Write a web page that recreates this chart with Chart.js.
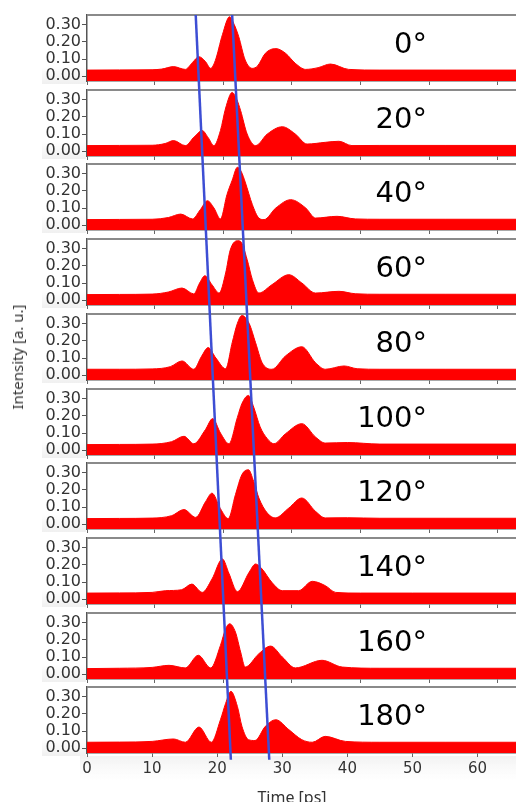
<!DOCTYPE html>
<html>
<head>
<meta charset="utf-8">
<script src="https://cdn.jsdelivr.net/npm/chart.js@4"></script>
<style>
  body { margin: 0; background: #fff; }
  #wrap { position: relative; width: 516px; height: 802px; overflow: hidden; background: #fff; }
  canvas { position: absolute; left: 0; }
  .angle { position: absolute; right: 89px; font-family: "DejaVu Sans", sans-serif; font-size: 29px; color: #000; transform: translateY(-50%); white-space: nowrap; }
  .title { position: absolute; font-family: "Noto Sans", sans-serif; color: #333; white-space: nowrap; }
</style>
</head>
<body>
<div id="wrap"></div>
<script>
// Angle of each trace (one panel per angle)
const angles = ['0°', '20°', '40°', '60°', '80°', '100°', '120°', '140°', '160°', '180°'];

// Time [ps] / intensity [a. u.]
const t000 = [0, 5, 10, 11.5, 13.3, 15.1, 16.2, 17.2, 18.2, 19.0, 19.7, 20.8, 21.9, 22.6, 23.3, 24.3, 25.4, 26.2, 27.4, 29.0, 30.5, 32.0, 33.6, 35.5, 37.4, 40.2, 45, 55, 66];
const i000 = [0.036, 0.037, 0.038, 0.042, 0.056, 0.040, 0.080, 0.113, 0.085, 0.046, 0.090, 0.240, 0.344, 0.300, 0.230, 0.094, 0.046, 0.060, 0.133, 0.160, 0.133, 0.075, 0.040, 0.050, 0.071, 0.040, 0.036, 0.036, 0.036];

const t020 = [0, 5, 10, 12, 13.3, 15.1, 16.5, 17.7, 18.6, 19.5, 20.5, 21.3, 22.3, 23.0, 23.6, 24.6, 25.9, 27.7, 30.0, 32.0, 33.8, 36.6, 38.7, 40.7, 45, 55, 66];
const i020 = [0.033, 0.034, 0.035, 0.045, 0.062, 0.033, 0.085, 0.120, 0.080, 0.033, 0.120, 0.250, 0.340, 0.300, 0.235, 0.100, 0.033, 0.100, 0.142, 0.100, 0.042, 0.052, 0.058, 0.033, 0.034, 0.034, 0.034];

const t040 = [0, 5, 10, 12.5, 14.4, 16.2, 17.4, 18.5, 19.5, 20.5, 21.5, 22.3, 23.1, 23.7, 24.3, 25.4, 26.4, 27.2, 29.0, 31.3, 33.6, 35.1, 38.4, 41.2, 45, 55, 66];
const i040 = [0.033, 0.034, 0.035, 0.045, 0.065, 0.037, 0.090, 0.142, 0.100, 0.037, 0.177, 0.260, 0.335, 0.310, 0.250, 0.120, 0.042, 0.033, 0.100, 0.148, 0.100, 0.042, 0.052, 0.037, 0.035, 0.035, 0.035];

const t060 = [0, 5, 10, 12.5, 14.6, 16.4, 17.3, 18.1, 19.2, 20.3, 21.3, 22.0, 23.1, 23.6, 24.6, 25.4, 26.4, 28.4, 31.0, 33.0, 35.1, 38.7, 41.2, 45, 55, 66];
const i060 = [0.033, 0.034, 0.036, 0.048, 0.071, 0.037, 0.100, 0.142, 0.090, 0.042, 0.158, 0.290, 0.344, 0.340, 0.235, 0.120, 0.042, 0.090, 0.148, 0.100, 0.042, 0.052, 0.038, 0.035, 0.035, 0.035];

const t080 = [0, 5, 10, 12.8, 14.6, 16.4, 17.6, 18.6, 19.8, 21.3, 22.3, 23.1, 23.8, 24.9, 25.9, 26.9, 28.4, 30.5, 33.0, 35.1, 36.6, 39.5, 41.5, 45, 55, 66];
const i080 = [0.035, 0.035, 0.037, 0.050, 0.083, 0.035, 0.110, 0.160, 0.100, 0.038, 0.188, 0.300, 0.346, 0.300, 0.188, 0.073, 0.035, 0.112, 0.165, 0.073, 0.035, 0.054, 0.038, 0.035, 0.035, 0.035];

const t100 = [0, 5, 10, 13, 14.9, 16.4, 18.2, 19.3, 20.5, 21.8, 23.1, 23.8, 24.8, 25.6, 26.6, 27.7, 28.7, 30.5, 33.0, 35.1, 36.6, 40, 45, 55, 66];
const i100 = [0.033, 0.034, 0.036, 0.050, 0.081, 0.038, 0.120, 0.183, 0.100, 0.038, 0.190, 0.270, 0.317, 0.250, 0.135, 0.067, 0.038, 0.096, 0.154, 0.077, 0.042, 0.045, 0.036, 0.036, 0.036];

const t120 = [0, 5, 10, 13, 14.9, 16.7, 18.2, 19.2, 20.5, 21.7, 22.8, 23.8, 24.8, 25.6, 26.4, 27.7, 28.9, 31.0, 33.0, 35.1, 36.6, 40, 45, 55, 66];
const i120 = [0.033, 0.034, 0.036, 0.050, 0.085, 0.040, 0.130, 0.180, 0.090, 0.033, 0.171, 0.287, 0.315, 0.248, 0.152, 0.065, 0.037, 0.094, 0.152, 0.075, 0.037, 0.038, 0.035, 0.035, 0.035];

const t140 = [0, 5, 10, 12.1, 14.5, 16.1, 17.7, 19.2, 20.8, 21.8, 23.1, 24.9, 25.9, 26.9, 28.4, 30.0, 32.5, 34.6, 36.6, 38.2, 42, 50, 66];
const i140 = [0.036, 0.037, 0.040, 0.050, 0.055, 0.088, 0.040, 0.117, 0.233, 0.150, 0.044, 0.156, 0.204, 0.175, 0.098, 0.050, 0.050, 0.104, 0.079, 0.040, 0.036, 0.036, 0.036];

const t160 = [0, 5, 10, 12.6, 15.1, 17.1, 19.0, 20.5, 21.3, 21.9, 22.8, 23.6, 24.3, 26.4, 28.2, 30.0, 32.0, 36.1, 39.2, 45, 55, 66];
const i160 = [0.033, 0.035, 0.040, 0.052, 0.037, 0.110, 0.037, 0.167, 0.263, 0.292, 0.244, 0.129, 0.042, 0.119, 0.163, 0.100, 0.037, 0.081, 0.042, 0.035, 0.035, 0.035];

const t180 = [0, 5, 10, 13.3, 15.1, 17.2, 19.1, 20.5, 21.3, 22.1, 23.1, 23.8, 24.8, 25.8, 27.4, 29.0, 31.0, 33.0, 34.6, 36.6, 39.7, 45, 55, 66];
const i180 = [0.035, 0.036, 0.040, 0.054, 0.035, 0.123, 0.035, 0.165, 0.260, 0.329, 0.242, 0.127, 0.050, 0.045, 0.127, 0.165, 0.108, 0.050, 0.035, 0.069, 0.040, 0.035, 0.035, 0.035];

const times = [t000, t020, t040, t060, t080, t100, t120, t140, t160, t180];
const intens = [i000, i020, i040, i060, i080, i100, i120, i140, i160, i180];

// Guide lines (blue): [time, panel position] at top and bottom of the stack
const guideA = [[16.7, 0], [22.1, 9.97]];
const guideB = [[22.3, 0], [28.0, 9.97]];

// Axes
const yTickValues = [0, 0.1, 0.2, 0.3];
const xTickValues = [0, 10, 20, 30, 40, 50, 60];
const panelTickValues = [0, 10.35, 20.9, 31.45, 42.0, 52.55, 63.1]; // tick marks of the upper panels
const xMin = 0, xMax = 65.9;
const yMin = -0.027, yMax = 0.354;

const wrap = document.getElementById('wrap');
const PANEL_TOP = 15, PANEL_STEP = 74.7, PANEL_H = 66, PAD_TOP = 12;

// top border of each panel + light grey shading behind the 0.00 label
const framePlugin = {
  id: 'frame',
  beforeDraw(chart) {
    const { ctx, chartArea, scales } = chart;
    const y0 = scales.y.getPixelForValue(0.06);
    const g = ctx.createLinearGradient(0, y0, 0, chartArea.bottom + 3);
    g.addColorStop(0, 'rgba(242,242,242,0)');
    g.addColorStop(1, 'rgba(240,240,240,1)');
    ctx.save();
    ctx.fillStyle = g;
    ctx.fillRect(42, y0, chartArea.left - 43, chartArea.bottom + 3 - y0);
    if (chart.options.lastPanel) {
      const g2 = ctx.createLinearGradient(0, chartArea.bottom + 3, 0, chartArea.bottom + 28);
      g2.addColorStop(0, 'rgba(242,242,242,1)');
      g2.addColorStop(1, 'rgba(248,248,248,0)');
      ctx.fillStyle = g2;
      ctx.fillRect(80, chartArea.bottom + 3, chart.width - 80, 25);
    }
    ctx.restore();
  },
  afterDraw(chart) {
    const { ctx, chartArea } = chart;
    ctx.save();
    ctx.strokeStyle = '#8a8a8a';
    ctx.lineWidth = 2;
    ctx.beginPath();
    ctx.moveTo(chartArea.left, chartArea.top);
    ctx.lineTo(chartArea.right, chartArea.top);
    ctx.stroke();
    ctx.restore();
  }
};

function makePanel(i) {
  const last = i === angles.length - 1;
  const bottomH = last ? 34 : 12;
  const top = PANEL_TOP + PANEL_STEP * i;
  const canvas = document.createElement('canvas');
  canvas.width = 516;
  canvas.height = PAD_TOP + PANEL_H + bottomH;
  canvas.style.top = Math.round(top - PAD_TOP) + 'px';
  wrap.appendChild(canvas);

  new Chart(canvas, {
    type: 'line',
    data: {
      datasets: [{
        data: times[i].map((t, k) => ({ x: t, y: intens[i][k] })),
        borderColor: '#ff0000',
        backgroundColor: '#ff0000',
        borderWidth: 1,
        fill: 'start',
        pointRadius: 0,
        cubicInterpolationMode: 'monotone'
      }]
    },
    options: {
      responsive: false,
      animation: false,
      events: [],
      lastPanel: last,
      layout: { padding: { top: PAD_TOP, left: 0, right: 0, bottom: 0 } },
      plugins: { legend: { display: false }, tooltip: { enabled: false } },
      scales: {
        x: {
          type: 'linear',
          min: xMin,
          max: xMax,
          afterFit: s => { s.height = bottomH; },
          afterBuildTicks: s => { s.ticks = (last ? xTickValues : panelTickValues).map(v => ({ value: v })); },
          ticks: {
            display: last,
            autoSkip: false,
            maxRotation: 0,
            padding: 3,
            color: '#333',
            font: { family: 'DejaVu Sans', size: 15 },
            callback: v => v
          },
          grid: { drawOnChartArea: false, tickLength: 4, color: '#666' },
          border: { color: '#555', width: 1.5 }
        },
        y: {
          min: yMin,
          max: yMax,
          afterFit: s => { s.width = 87; },
          afterBuildTicks: s => { s.ticks = yTickValues.map(v => ({ value: v })); },
          ticks: {
            autoSkip: false,
            padding: 1,
            color: '#333',
            font: { family: 'DejaVu Sans', size: 16 },
            callback: v => v.toFixed(2)
          },
          grid: { drawOnChartArea: false, tickLength: 5, color: '#555' },
          border: { color: '#555', width: 1.5 }
        }
      }
    },
    plugins: [framePlugin]
  });

  const lab = document.createElement('div');
  lab.className = 'angle';
  lab.textContent = angles[i];
  lab.style.top = (top + 28) + 'px';
  wrap.appendChild(lab);
}

angles.forEach((a, i) => makePanel(i));

// Overlay chart for the two blue guide lines, sharing the same time axis
const ov = document.createElement('canvas');
ov.width = 516;
ov.height = 802;
ov.style.top = '0px';
wrap.appendChild(ov);
const stackBottom = PANEL_TOP + PANEL_STEP * 10;
new Chart(ov, {
  type: 'line',
  data: {
    datasets: [guideA, guideB].map(g => ({
      data: g.map(p => ({ x: p[0], y: p[1] })),
      borderColor: '#3d4ed4',
      borderWidth: 2.5,
      pointRadius: 0,
      fill: false,
      clip: false
    }))
  },
  options: {
    responsive: false,
    animation: false,
    events: [],
    layout: { padding: { left: 87, right: 0, top: PANEL_TOP, bottom: 802 - stackBottom } },
    plugins: { legend: { display: false }, tooltip: { enabled: false } },
    scales: {
      x: { type: 'linear', min: xMin, max: xMax, display: false },
      y: { type: 'linear', min: 0, max: 10, reverse: true, display: false }
    }
  }
});

// Axis titles
const yt = document.createElement('div');
yt.className = 'title';
yt.textContent = 'Intensity [a. u.]';
yt.style.cssText = 'left:17px;top:357px;font-size:15px;transform:translate(-50%,-50%) rotate(-90deg);';
wrap.appendChild(yt);

const xt = document.createElement('div');
xt.className = 'title';
xt.textContent = 'Time [ps]';
xt.style.cssText = 'left:292px;top:797px;font-size:16px;transform:translate(-50%,-50%);';
wrap.appendChild(xt);
</script>
</body>
</html>
